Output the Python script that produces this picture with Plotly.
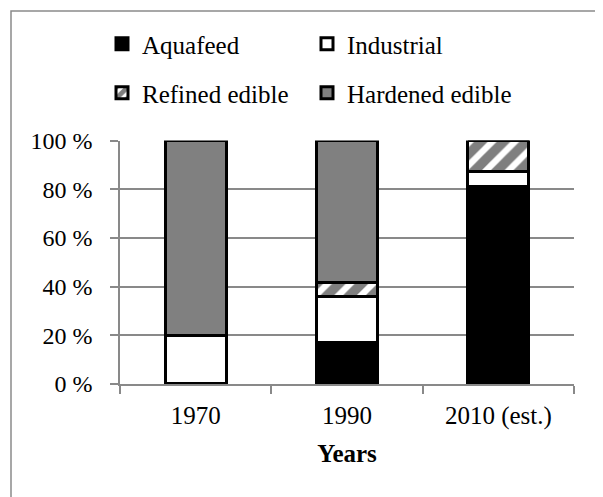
import plotly.graph_objects as go

years = ["1970", "1990", "2010 (est.)"]
aquafeed = [0, 17, 81]
industrial = [20, 19, 6.5]
refined_edible = [0, 5.5, 12.5]
hardened_edible = [80, 58.5, 0]
pct_ticks = [0, 20, 40, 60, 80, 100]
pct_labels = ["0 %", "20 %", "40 %", "60 %", "80 %", "100 %"]

# page body has an 8px margin, so the figure is 8px smaller than the window
W, H = 595, 489
L, R, T, B = 112, 29, 131, 113
pw, ph = W - L - R, H - T - B

SERIF = "Liberation Serif"
grey = "#898989"

def serif(size):
    return dict(family=SERIF, size=size, color="black")

fig = go.Figure()
line = dict(color="black", width=3)
fig.add_trace(go.Bar(x=years, y=aquafeed, name="Aquafeed", legend="legend",
                     marker=dict(color="black", line=line)))
fig.add_trace(go.Bar(x=years, y=industrial, name="Industrial", legend="legend",
                     marker=dict(color="white", line=line)))
fig.add_trace(go.Bar(x=years, y=refined_edible, name="Refined edible", legend="legend2",
                     marker=dict(color="white", line=line,
                                 pattern=dict(shape="/", fgcolor="black", bgcolor="white",
                                              size=16, solidity=0.6))))
fig.add_trace(go.Bar(x=years, y=hardened_edible, name="Hardened edible", legend="legend2",
                     marker=dict(color="#808080", line=line)))

leg = dict(orientation="h", xref="container", yref="container", xanchor="left", yanchor="middle",
           font=serif(25), traceorder="normal",
           entrywidth=160, entrywidthmode="pixels", bgcolor="rgba(0,0,0,0)")

fig.update_layout(
    width=W, height=H,
    margin=dict(l=L, r=R, t=T, b=B),
    barmode="stack", bargap=0.595,
    paper_bgcolor="white", plot_bgcolor="white",
    font=serif(24),
    legend=dict(leg, x=94 / W, y=1 - 36 / H),
    legend2=dict(leg, x=94 / W, y=1 - 85 / H),
    xaxis=dict(showline=True, linecolor=grey, linewidth=1.5,
               ticks="outside", ticklen=8, tickcolor=grey, tickwidth=1.5,
               tickson="boundaries", showgrid=False,
               tickfont=serif(25), ticklabelstandoff=8,
               title=dict(text="<b>Years</b>", font=serif(25), standoff=16)),
    yaxis=dict(range=[0, 100], tickmode="array", tickvals=pct_ticks, ticktext=pct_labels,
               showline=True, linecolor=grey, linewidth=1.5,
               ticks="outside", ticklen=8, tickcolor=grey, tickwidth=1.5,
               showgrid=True, gridcolor=grey, gridwidth=1.5,
               tickfont=serif(24), ticklabelstandoff=13, zeroline=False),
)

# outer frame of the chart
fig.add_shape(type="rect", xref="paper", yref="paper",
              x0=(3 - L) / pw, x1=(594 - L) / pw,
              y0=-(H + 20 - T - ph) / ph, y1=(H - 0.5 - B) / ph,
              line=dict(color="#8a8a8a", width=1.5), fillcolor="rgba(0,0,0,0)", layer="below")

fig.write_html("out.html")
